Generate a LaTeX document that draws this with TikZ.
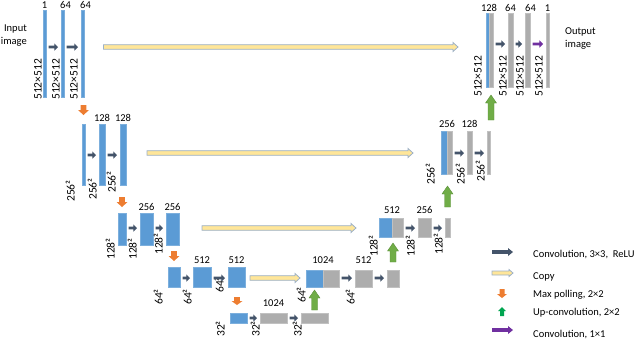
\documentclass[tikz,border=0pt]{standalone}
\usepackage{fontspec}
\setmainfont{Carlito}
\usetikzlibrary{calc,positioning}
\definecolor{bblue}{HTML}{5B9BD5}
\definecolor{bgray}{HTML}{ADADAD}
\definecolor{convc}{HTML}{44546A}
\definecolor{copyfill}{HTML}{FFE699}
\definecolor{copyedge}{HTML}{9BB0C8}
\definecolor{poolc}{HTML}{ED7D31}
\definecolor{upc}{HTML}{70AD47}
\definecolor{upedge}{HTML}{5B8F3A}
\definecolor{legupc}{HTML}{00A550}
\definecolor{purp}{HTML}{7030A0}
% block arrow: style, tail, tip, shaft half width, head half width, head length
\newcommand\blockarr[6]{%
  \coordinate (bhA) at #2; \coordinate (bhB) at #3;
  \coordinate (bhH) at ($(bhB)!#6!(bhA)$);
  \path[#1] ($(bhA)!#4!90:(bhB)$) -- ($(bhH)!#4!90:(bhB)$) -- ($(bhH)!#5!90:(bhB)$) -- (bhB)
    -- ($(bhH)!#5!-90:(bhB)$) -- ($(bhH)!#4!-90:(bhB)$) -- ($(bhA)!#4!-90:(bhB)$) -- cycle;}
\newcommand\convarr[4][conv]{\blockarr{#1}{($(#2.east|-#4)+(2.5,0)$)}{($(#3.west|-#4)+(-3,0)$)}{1.4pt}{3.6pt}{3.6pt}}
\newcommand\mkbar[6]{\node[#2, minimum width={(#4-#3)*1pt}, minimum height={(#6-#5)*1pt}] (#1) at ({(#3+#4)/2},{(#5+#6)/2}) {};}
\tikzset{
  bb/.style={draw=bblue!80!white, fill=bblue, line width=0.5pt, inner sep=0pt, outer sep=0pt},
  gb/.style={draw=bgray!75!white, fill=bgray, line width=0.5pt, inner sep=0pt, outer sep=0pt},
  conv/.style={fill=convc},
  copyar/.style={fill=copyfill, draw=copyedge, line width=0.8pt},
  pool/.style={fill=poolc},
  upar/.style={fill=upc, draw=upedge, line width=0.4pt},
  legup/.style={fill=legupc},
  one/.style={fill=purp},
  num/.style={font=\fontsize{10.5}{12}\selectfont, inner sep=0pt, anchor=base},
  dimlab/.style={font=\fontsize{11.5}{12}\selectfont, rotate=90, anchor=south west, inner sep=0pt},
  legtxt/.style={font=\fontsize{10.5}{12}\selectfont, anchor=west, inner sep=0pt},
}
\begin{document}
\begin{tikzpicture}[x=1pt,y=-1pt]
\useasboundingbox (0,0) rectangle (640,341);
% row coordinates
\coordinate (r1) at (0,47); \coordinate (r2) at (0,155); \coordinate (r3) at (0,228);
\coordinate (r4) at (0,278); \coordinate (r5) at (0,318);
\coordinate (q4) at (0,278); \coordinate (q3) at (0,228); \coordinate (q2) at (0,153); \coordinate (q1) at (0,44);
\coordinate (t1) at (0,8); \coordinate (t2) at (0,121.5); \coordinate (t3) at (0,210); \coordinate (t4) at (0,263);
\coordinate (t5) at (0,306); \coordinate (u4) at (0,263); \coordinate (u3) at (0,213); \coordinate (u2) at (0,127); \coordinate (u1) at (0,11);
% bars
\mkbar{E11}{bb}{43}{46}{10}{97}
\mkbar{E12}{bb}{61}{64}{10}{97}
\mkbar{E13}{bb}{81}{84}{10}{97}
\mkbar{E21}{bb}{82}{85}{124}{185}
\mkbar{E22}{bb}{99}{105}{124}{185}
\mkbar{E23}{bb}{120}{126}{124}{185}
\mkbar{E31}{bb}{118}{126}{213}{245}
\mkbar{E32}{bb}{140}{153}{213}{245}
\mkbar{E33}{bb}{166}{179}{213}{245}
\mkbar{E41}{bb}{168}{180}{267}{287}
\mkbar{E42}{bb}{193}{211}{267}{287}
\mkbar{E43}{bb}{228}{245}{267}{287}
\mkbar{B1}{bb}{230}{247}{313}{323}
\mkbar{B2}{gb}{260}{287}{313}{323}
\mkbar{B3}{gb}{301}{328}{313}{323}
\mkbar{D41b}{bb}{306}{323}{270}{287}
\mkbar{D41g}{gb}{323}{339}{270}{287}
\mkbar{D42}{gb}{355}{372}{270}{287}
\mkbar{D43}{gb}{387}{399}{270}{287}
\mkbar{D31b}{bb}{379}{392}{218}{237}
\mkbar{D31g}{gb}{392}{403}{218}{237}
\mkbar{D32}{gb}{418}{431}{218}{237}
\mkbar{D33}{gb}{445}{450}{218}{237}
\mkbar{D21b}{bb}{441}{447}{131}{174}
\mkbar{D21g}{gb}{447}{452}{131}{174}
\mkbar{D22}{gb}{467}{472}{131}{174}
\mkbar{D23}{gb}{487}{490}{131}{174}
\mkbar{D11b}{bb}{486}{489}{13}{87}
\mkbar{D11g}{gb}{489}{493}{13}{87}
\mkbar{D12}{gb}{508}{513}{13}{87}
\mkbar{D13}{gb}{525}{530}{13}{87}
\mkbar{D14}{gb}{546}{549}{13}{87}
% channel numbers
\node[num] (n11) at (E11.north |- t1) {1};
\node[num] (n12) at ([xshift=3pt]E12.north |- t1) {64};
\node[num] (n13) at ([xshift=3pt]E13.north |- t1) {64};
\node[num] (n22) at (E22.north |- t2) {128};
\node[num] (n23) at (E23.north |- t2) {128};
\node[num] (n32) at (E32.north |- t3) {256};
\node[num] (n33) at (E33.north |- t3) {256};
\node[num] (n42) at (E42.north |- t4) {512};
\node[num] (n43) at (E43.north |- t4) {512};
\node[num] (n52) at (B2.north |- t5) {1024};
\node[num] (m41) at (D41b.north east |- u4) {1024};
\node[num] (m42) at (D42.north |- u4) {512};
\node[num] (m31) at (D31b.north east |- u3) {512};
\node[num] (m32) at (D32.north |- u3) {256};
\node[num] (m21) at (D21b.north east |- u2) {256};
\node[num] (m22) at (D22.north |- u2) {128};
\node[num] (m11) at (D11b.north east |- u1) {128};
\node[num] (m12) at (D12.north |- u1) {64};
\node[num] (m13) at ([xshift=3pt]D13.north |- u1) {64};
\node[num] (m14) at (D14.north |- u1) {1};
% size labels
\node[dimlab] (s11) at (42,100) {512×512};
\node[dimlab] (s12) at (60,100) {512×512};
\node[dimlab] (s13) at (78,100) {512×512};
\node[dimlab] (s21) at (75,202) {256²};
\node[dimlab] (s22) at (97,200) {256²};
\node[dimlab] (s23) at (116,193) {256²};
\node[dimlab] (s31) at (115,260) {128²};
\node[dimlab] (s32) at (137,260) {128²};
\node[dimlab] (s33) at (163,255) {128²};
\node[dimlab] (s41) at (163,305) {64²};
\node[dimlab] (s42) at (192,305) {64²};
\node[dimlab] (s43) at (224,293) {64²};
\node[dimlab] (s51) at (225,337) {32²};
\node[dimlab] (s52) at (260,337) {32²};
\node[dimlab] (s53) at (302,337) {32²};
\node[dimlab] (p41) at (306,303) {64²};
\node[dimlab] (p42) at (355,305) {64²};
\node[dimlab] (p31) at (378,257) {128²};
\node[dimlab] (p32) at (415,257) {128²};
\node[dimlab] (p33) at (443,255) {128²};
\node[dimlab] (p21) at (435,185) {256²};
\node[dimlab] (p22) at (465,185) {256²};
\node[dimlab] (p23) at (485,182) {256²};
\node[dimlab] (p11) at (482,97) {512×512};
\node[dimlab] (p12) at (507,97) {512×512};
\node[dimlab] (p13) at (524,97) {512×512};
\node[dimlab] (p14) at (543,97) {512×512};
% conv arrows
\convarr{E11}{E12}{r1} \convarr{E12}{E13}{r1}
\convarr{E21}{E22}{r2} \convarr{E22}{E23}{r2}
\convarr{E31}{E32}{r3} \convarr{E32}{E33}{r3}
\convarr{E41}{E42}{r4} \convarr{E42}{E43}{r4}
\convarr{B1}{B2}{r5} \convarr{B2}{B3}{r5}
\convarr{D41g}{D42}{q4} \convarr{D42}{D43}{q4}
\convarr{D31g}{D32}{q3} \convarr{D32}{D33}{q3}
\convarr{D21g}{D22}{q2} \convarr{D22}{D23}{q2}
\convarr{D11g}{D12}{q1} \convarr{D12}{D13}{q1}
\convarr[one]{D13}{D14}{q1}
% copy arrows
\blockarr{copyar}{($(E13.east|-r1)+(19.5,0)$)}{($(D11b.west|-r1)+(-28,0)$)}{2.3pt}{4.5pt}{5pt}
\blockarr{copyar}{($(E23.east|-q2)+(21,0)$)}{($(D21b.west|-q2)+(-28,0)$)}{2.3pt}{4.5pt}{5pt}
\blockarr{copyar}{($(E33.east|-r3)+(23,0)$)}{($(D31b.west|-r3)+(-23,0)$)}{2.3pt}{4.5pt}{5pt}
\blockarr{copyar}{($(E43.east|-r4)+(5,0)$)}{($(D41b.west|-r4)+(-6,0)$)}{2.3pt}{4.5pt}{5pt}
% max pooling
\blockarr{pool}{($(E21.north)+(0,-19)$)}{($(E21.north)+(0,-9)$)}{2.8pt}{5.5pt}{5pt}
\blockarr{pool}{($(E31.north)+(0,-16)$)}{($(E31.north)+(0,-6)$)}{2.8pt}{5.5pt}{5pt}
\blockarr{pool}{($(E41.north)+(0,-16)$)}{($(E41.north)+(0,-6)$)}{2.8pt}{5.5pt}{5pt}
\blockarr{pool}{($(B1.north)+(-1.5,-16)$)}{($(B1.north)+(-1.5,-8)$)}{2.8pt}{5.5pt}{4pt}
% up convolution
\blockarr{upar}{($(B3.north)+(0,-3)$)}{($(D41b.south)+(0,3)$)}{3pt}{5.5pt}{8pt}
\blockarr{upar}{($(D43.north)+(0,-8)$)}{($(D43.north)+(0,-27)$)}{3pt}{5.5pt}{8pt}
\blockarr{upar}{($(D33.north)+(0,-11)$)}{($(D33.north)+(0,-32)$)}{3pt}{5.5pt}{8pt}
\blockarr{upar}{($(D23.north)+(2.5,-11)$)}{($(D23.north)+(2.5,-36)$)}{3pt}{5.5pt}{8pt}
% input / output texts
\node[font=\fontsize{10.5}{13}\selectfont, align=right, anchor=east, inner sep=0pt] (inp) at (27,36) {Input\\image};
\node[font=\fontsize{10.5}{13}\selectfont, align=left, anchor=west, inner sep=0pt] (outp) at (565,38) {Output\\image};
% legend
\coordinate (la1) at (492,252); \coordinate (lb1) at (513,252);
\coordinate (la2) at (492,273); \coordinate (lb2) at (513,273);
\coordinate (la3) at (502,289); \coordinate (lb3) at (502,298);
\coordinate (la4) at (502,316); \coordinate (lb4) at (502,307);
\coordinate (la5) at (492,330); \coordinate (lb5) at (513,330);
\blockarr{conv}{(la1)}{(lb1)}{1.8pt}{4pt}{5pt}
\blockarr{copyar}{(la2)}{(lb2)}{2pt}{3.5pt}{4pt}
\blockarr{pool}{(la3)}{(lb3)}{2.5pt}{5pt}{4pt}
\blockarr{legup}{(la4)}{(lb4)}{2pt}{4pt}{4pt}
\blockarr{one}{(la5)}{(lb5)}{1.8pt}{4pt}{5pt}
\node[legtxt] (lt1) at (533,255) {Convolution, 3×3,~ ReLU};
\node[legtxt] (lt2) at (533,277) {Copy};
\node[legtxt] (lt3) at (533,295) {Max polling, 2×2};
\node[legtxt] (lt4) at (533,313) {Up-convolution, 2×2};
\node[legtxt] (lt5) at (533,335) {Convolution, 1×1};
\end{tikzpicture}
\end{document}
